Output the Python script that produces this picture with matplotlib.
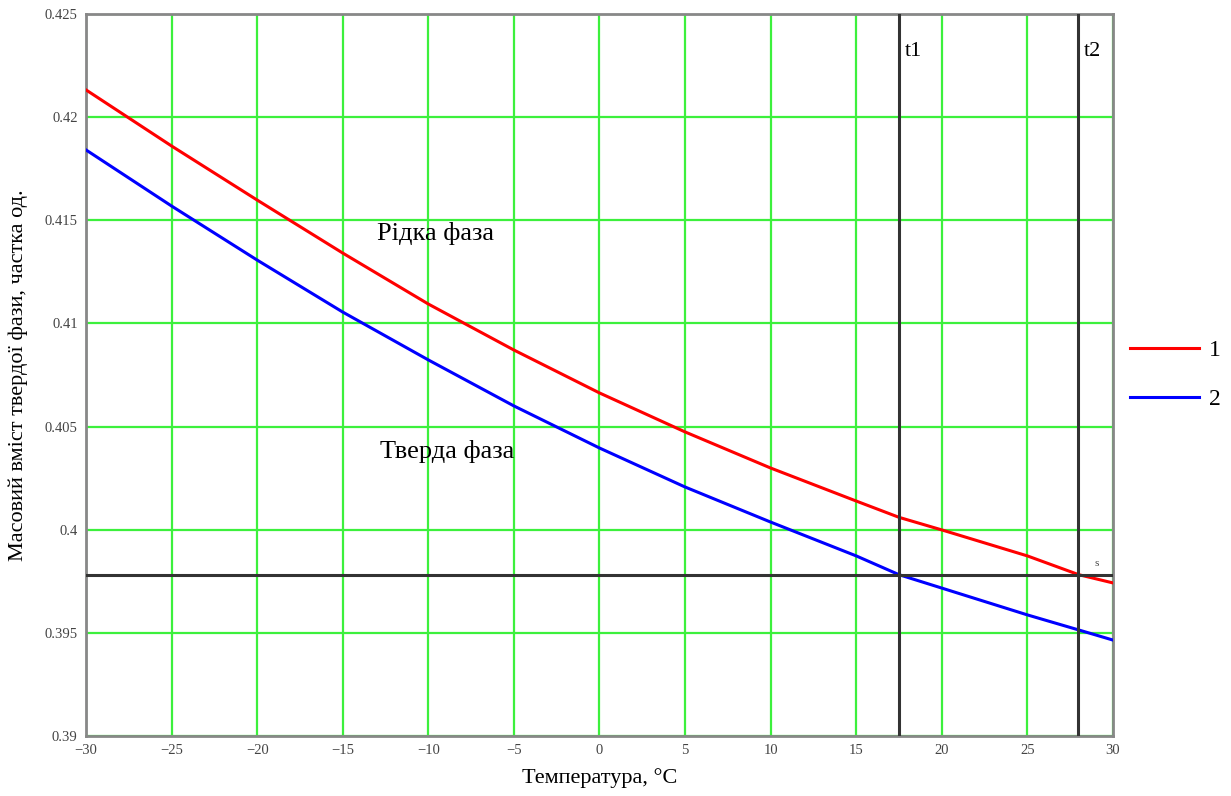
import matplotlib.pyplot as plt
import numpy as np

plt.rcParams['font.family'] = ['Liberation Serif', 'DejaVu Serif']

# temperature points
temp = [-30, -25, -20, -15, -10, -5, 0, 5, 10, 15, 17.5, 20, 25, 28, 30]
# curve 1 (red) - liquid phase boundary
w_liquid = [0.42132, 0.41860, 0.41598, 0.41341, 0.41094, 0.40871, 0.40663,
            0.40474, 0.40299, 0.40139, 0.40060, 0.39999, 0.39873, 0.39782, 0.39742]
# curve 2 (blue) - solid phase boundary
w_solid = [0.41841, 0.41569, 0.41307, 0.41055, 0.40823, 0.40600, 0.40396,
           0.40207, 0.40037, 0.39873, 0.39782, 0.39717, 0.39587, 0.39514, 0.39465]

t1 = 17.5
t2 = 27.95
s_level = 0.39782

x_ticks = [-30, -25, -20, -15, -10, -5, 0, 5, 10, 15, 20, 25, 30]
y_ticks = [0.39, 0.395, 0.4, 0.405, 0.41, 0.415, 0.42, 0.425]
y_tick_labels = ['0.39', '0.395', '0.4', '0.405', '0.41', '0.415', '0.42', '0.425']

fig = plt.figure(figsize=(12.31, 7.96), dpi=100)
ax = fig.add_axes([0.0699, 0.0754, 0.8342, 0.907])

# grid
for xv in x_ticks:
    ax.axvline(xv, color='#3cf03c', lw=1.6, zorder=1)
for yv in y_ticks:
    ax.axhline(yv, color='#3cf03c', lw=1.6, zorder=1)

# curves
ax.plot(temp, w_liquid, color='red', lw=2.2, zorder=3, label='1')
ax.plot(temp, w_solid, color='blue', lw=2.2, zorder=3, label='2')

# markers t1, t2 and s level
ax.axvline(t1, color='#333333', lw=2.2, zorder=4)
ax.axvline(t2, color='#333333', lw=2.2, zorder=4)
ax.axhline(s_level, color='#333333', lw=2.2, zorder=4)

ax.text(t1 + 0.35, 0.4232, 't1', fontsize=16, va='center', ha='left')
ax.text(t2 + 0.35, 0.4232, 't2', fontsize=16, va='center', ha='left')
ax.text(28.9, 0.39835, 's', fontsize=8, color='#444444', va='center')

ax.text(-13, 0.41438, 'Рідка фаза', fontsize=19, va='center', ha='left')
ax.text(-12.85, 0.40377, 'Тверда фаза', fontsize=19, va='center', ha='left')

ax.set_xlim(-30, 30)
ax.set_ylim(0.39, 0.425)
ax.set_xticks(x_ticks)
ax.set_xticklabels(['\u2212' + str(abs(v)) if v < 0 else str(v) for v in x_ticks])
ax.set_yticks(y_ticks)
ax.set_yticklabels(y_tick_labels)
ax.tick_params(length=0, labelsize=10.5, labelcolor='#444444', pad=6)

for sp in ax.spines.values():
    sp.set_color('#888888')
    sp.set_linewidth(2)

ax.set_xlabel('Температура, °C', fontsize=16, labelpad=8)
ax.set_ylabel('Масовий вміст твердої фази, частка од.', fontsize=16, labelpad=12)

leg = ax.legend(loc='center left', bbox_to_anchor=(0.918, 0.529),
                bbox_transform=fig.transFigure, frameon=False,
                fontsize=17, handlelength=2.9, labelspacing=1.15,
                handletextpad=0.45, borderpad=0, borderaxespad=0)

fig.savefig('out.png', dpi=100)
